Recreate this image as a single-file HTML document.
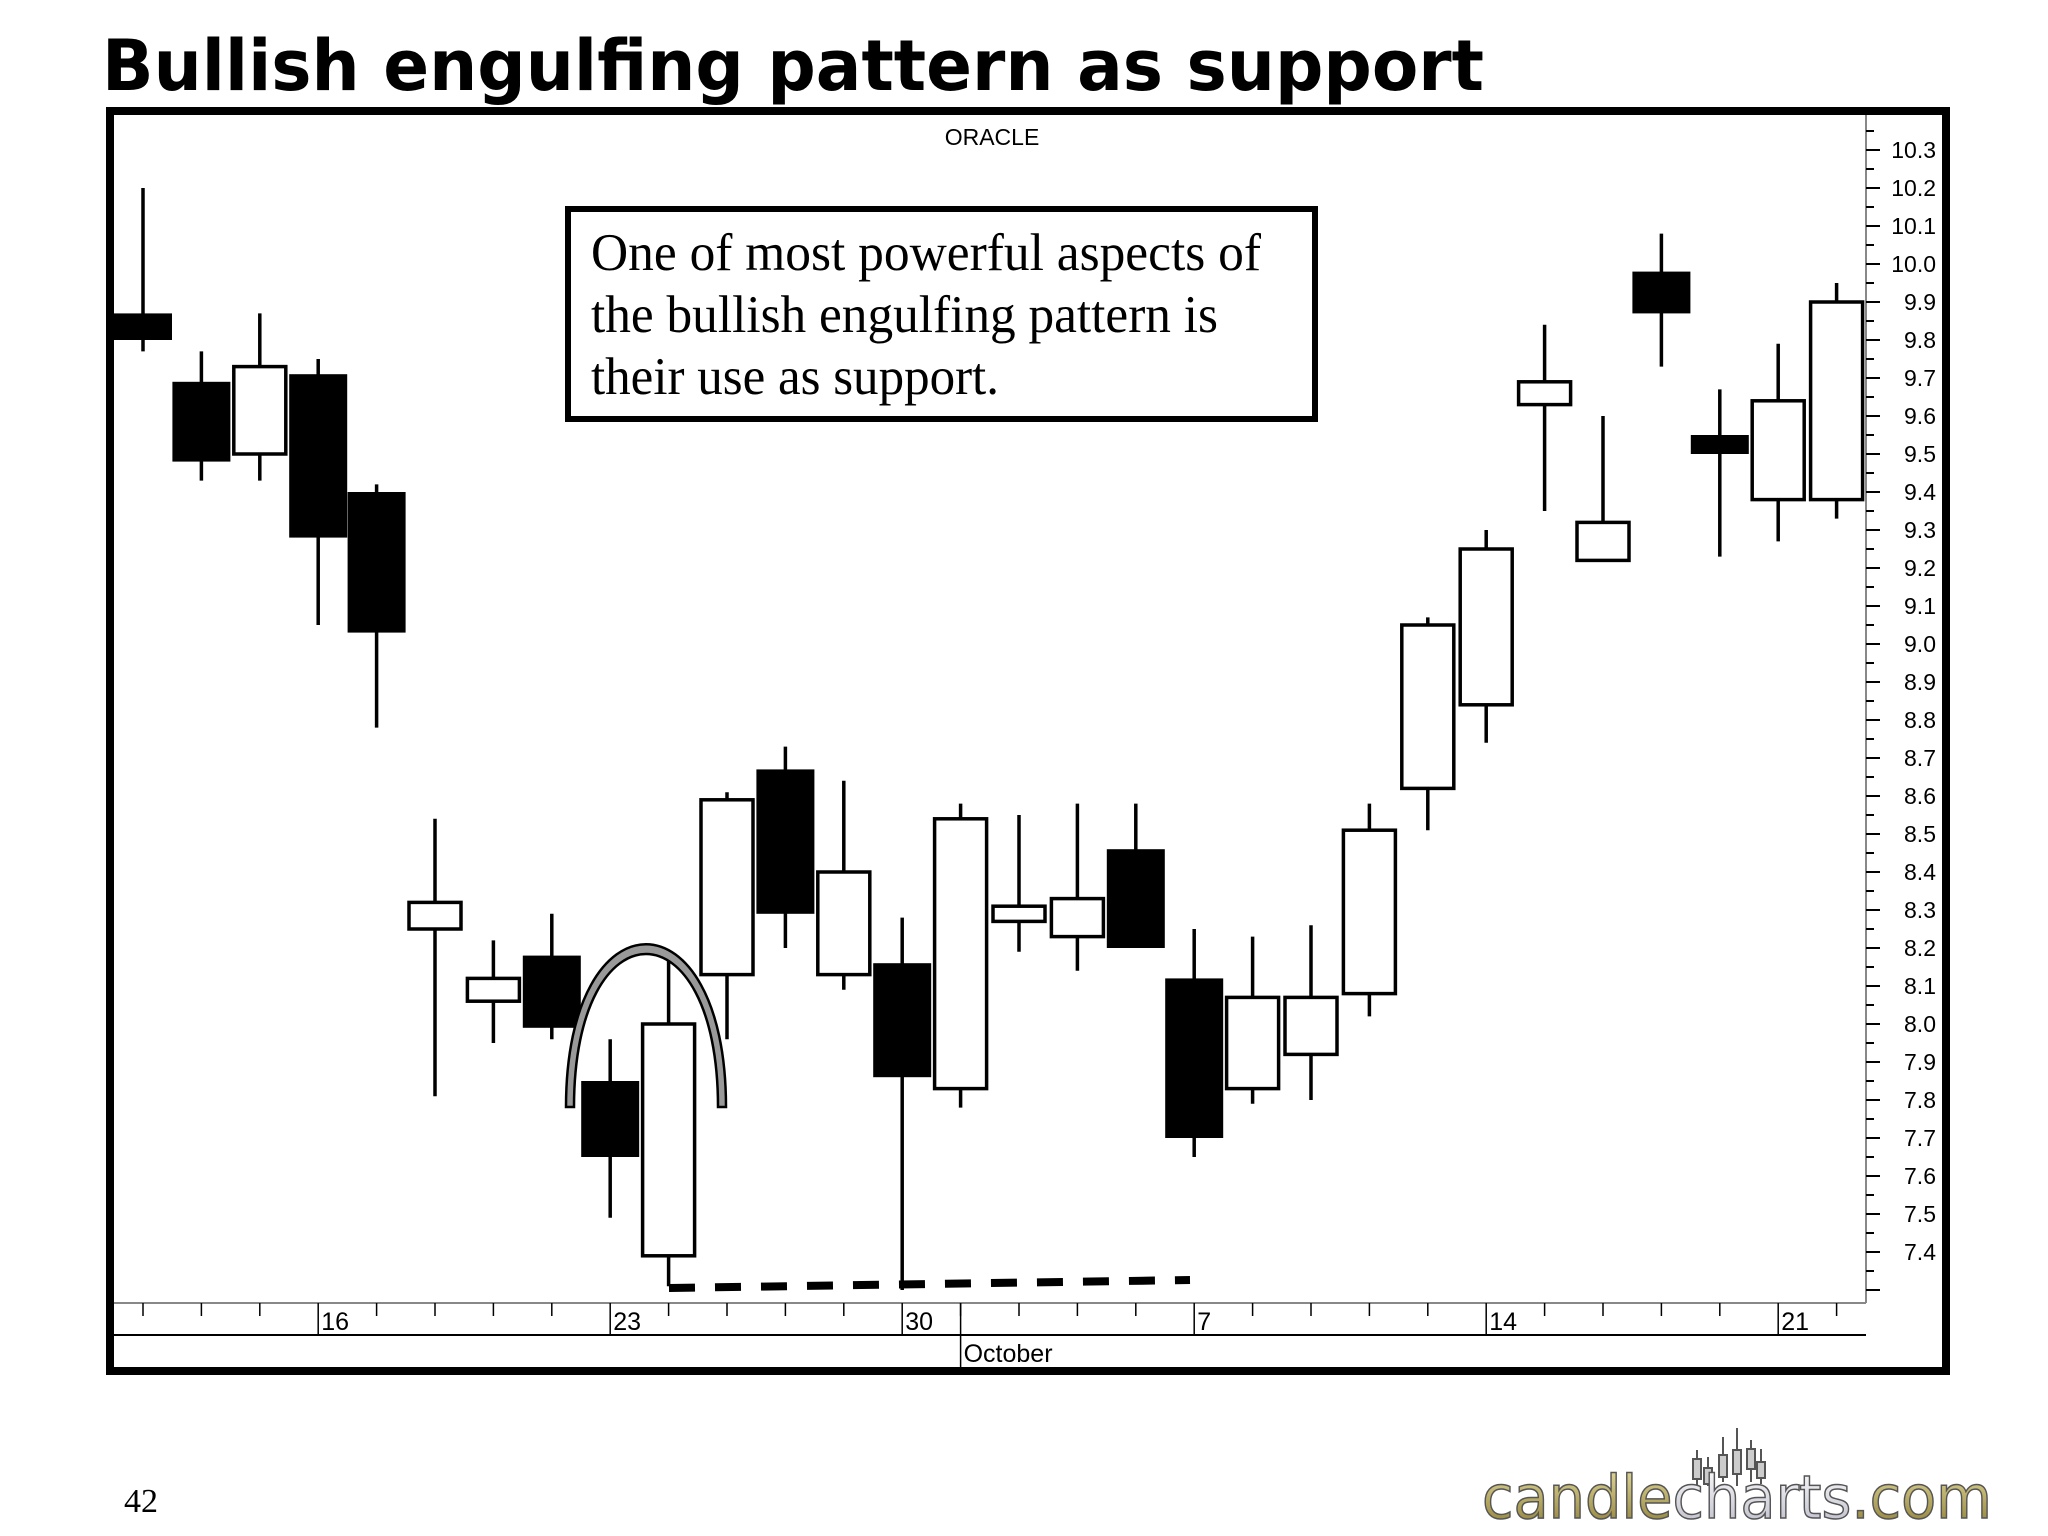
<!DOCTYPE html>
<html><head><meta charset="utf-8"><style>
html,body{margin:0;padding:0;background:#fff;}
svg{display:block;}
</style></head><body>
<svg id="chart" width="2048" height="1536" viewBox="0 0 2048 1536" xmlns="http://www.w3.org/2000/svg">
<text x="102" y="90" font-family="DejaVu Sans, Liberation Sans, sans-serif" font-weight="bold" font-size="70" textLength="1382" lengthAdjust="spacingAndGlyphs">Bullish engulfing pattern as support</text>
<rect x="110" y="111" width="1836" height="1260" fill="none" stroke="#000" stroke-width="8"/>
<text x="992" y="145" text-anchor="middle" font-family="Liberation Sans, sans-serif" font-size="23">ORACLE</text>
<g id="yaxis"></g>
<g id="xaxis"></g>
<g id="candles"></g>
<path d="M566,1107 C566,890 726,890 726,1107 L718,1107 C718,903 574,903 574,1107 Z" fill="#999" stroke="#000" stroke-width="2.5"/>
<line x1="669" y1="1288" x2="1190" y2="1280" stroke="#000" stroke-width="8" stroke-dasharray="26,20"/>
<rect x="568" y="209" width="747" height="210" fill="#fff" stroke="#000" stroke-width="6"/>
<text font-family="Liberation Serif, serif" font-size="53">
<tspan x="591" y="270" textLength="670" lengthAdjust="spacingAndGlyphs">One of most powerful aspects of</tspan>
<tspan x="591" y="332" textLength="627" lengthAdjust="spacingAndGlyphs">the bullish engulfing pattern is</tspan>
<tspan x="591" y="394" textLength="408" lengthAdjust="spacingAndGlyphs">their use as support.</tspan>
</text>
<text x="124" y="1512" font-family="Liberation Serif, serif" font-size="34">42</text>
<defs>
<linearGradient id="gold" x1="0" y1="0" x2="0" y2="1"><stop offset="0" stop-color="#e8dfa0"/><stop offset="1" stop-color="#8a7a30"/></linearGradient>
<linearGradient id="silver" x1="0" y1="0" x2="0" y2="1"><stop offset="0" stop-color="#ffffff"/><stop offset="1" stop-color="#b8b8c8"/></linearGradient>
</defs>
<g stroke="#555" stroke-width="2" fill="#ccc">
<line x1="1697" y1="1450" x2="1697" y2="1486"/><rect x="1693" y="1459" width="8" height="20"/>
<line x1="1708" y1="1457" x2="1708" y2="1486"/><rect x="1704" y="1468" width="8" height="16"/>
<line x1="1723" y1="1437" x2="1723" y2="1482"/><rect x="1719" y="1455" width="8" height="22"/>
<line x1="1737" y1="1428" x2="1737" y2="1486"/><rect x="1733" y="1450" width="8" height="24"/>
<line x1="1751" y1="1440" x2="1751" y2="1482"/><rect x="1747" y="1449" width="8" height="20"/>
<line x1="1761" y1="1449" x2="1761" y2="1484"/><rect x="1757" y="1462" width="8" height="16"/>
</g>
<text x="1482" y="1518" font-family="DejaVu Sans, Liberation Sans, sans-serif" font-size="60" textLength="510" lengthAdjust="spacingAndGlyphs" stroke="#555" stroke-width="1.5"><tspan fill="url(#gold)">candle</tspan><tspan fill="url(#silver)">charts</tspan><tspan fill="url(#gold)">.com</tspan></text>
</svg>
<script>
const opens  = [9.87,9.69,9.50,9.71,9.40,8.25,8.06,8.18,7.85,7.39,8.13,8.67,8.13,8.16,7.83,8.27,8.23,8.46,8.12,7.83,7.92,8.08,8.62,8.84,9.63,9.22,9.98,9.55,9.38,9.38];
const highs  = [10.20,9.77,9.87,9.75,9.42,8.54,8.22,8.29,7.96,8.18,8.61,8.73,8.64,8.28,8.58,8.55,8.58,8.58,8.25,8.23,8.26,8.58,9.07,9.30,9.84,9.60,10.08,9.67,9.79,9.95];
const lows   = [9.77,9.43,9.43,9.05,8.78,7.81,7.95,7.96,7.49,7.31,7.96,8.20,8.09,7.30,7.78,8.19,8.14,8.20,7.65,7.79,7.80,8.02,8.51,8.74,9.35,9.22,9.73,9.23,9.27,9.33];
const closes = [9.80,9.48,9.73,9.28,9.03,8.32,8.12,7.99,7.65,8.00,8.59,8.29,8.40,7.86,8.54,8.31,8.33,8.20,7.70,8.07,8.07,8.51,9.05,9.25,9.69,9.32,9.87,9.50,9.64,9.90];
const priceTicks = [7.4,7.5,7.6,7.7,7.8,7.9,8.0,8.1,8.2,8.3,8.4,8.5,8.6,8.7,8.8,8.9,9.0,9.1,9.2,9.3,9.4,9.5,9.6,9.7,9.8,9.9,10.0,10.1,10.2,10.3];
const dayLabels = ["","","","16","","","","","23","","","","","30","","","","","7","","","","","14","","","","","21",""];
const monthLabels = ["October"];
const monthStartIndex = [14];

const NS="http://www.w3.org/2000/svg";
function y(v){return 150+(10.3-v)*380;}
function x(i){return 143+i*58.4;}
function mk(tag,attrs,parent){const e=document.createElementNS(NS,tag);for(const k in attrs)e.setAttribute(k,attrs[k]);parent.appendChild(e);return e;}

const ya=document.getElementById('yaxis');
let l=mk('line',{x1:1866,y1:115,x2:1866,y2:1303,stroke:'#888','stroke-width':2},ya);


for(let k=0;k<=61;k++){
  const v=7.3+k*0.05;const major=(k%2===0);
  const t=mk('line',{x1:1866,y1:y(v),x2:major?1880:1874,y2:y(v),stroke:'#000','stroke-width':2},ya);
  
  
}
priceTicks.forEach(v=>{
  const t=mk('text',{x:1936,y:y(v)+8,'text-anchor':'end','font-family':'Liberation Sans, sans-serif','font-size':23},ya);
  t.textContent=v.toFixed(1);
  
  
});

const xa=document.getElementById('xaxis');
l=mk('line',{x1:114,y1:1303,x2:1866,y2:1303,stroke:'#888','stroke-width':2},xa);


l=mk('line',{x1:114,y1:1335,x2:1866,y2:1335,stroke:'#000','stroke-width':2},xa);


dayLabels.forEach((d,i)=>{
  const xi=x(i);
  const t=mk('line',{x1:xi,y1:1303,x2:xi,y2:d?1335:1316,stroke:'#000','stroke-width':1.5},xa);
  
  
  if(d){
    const tx=mk('text',{x:xi+3,y:1330,'font-family':'Liberation Sans, sans-serif','font-size':25},xa);
    tx.textContent=d;
    
    
  }
});
monthLabels.forEach((m,j)=>{
  const xi=x(monthStartIndex[j]);
  const t=mk('line',{x1:xi,y1:1303,x2:xi,y2:1367,stroke:'#000','stroke-width':1.5},xa);
  
  
  const tx=mk('text',{x:xi+3,y:1362,'font-family':'Liberation Sans, sans-serif','font-size':25},xa);
  tx.textContent=m;
  
  
});

const cg=document.getElementById('candles');
opens.forEach((o,i)=>{
  const c=closes[i],xi=x(i);
  const w=mk('line',{x1:xi,y1:y(highs[i]),x2:xi,y2:y(lows[i]),stroke:'#000','stroke-width':3.5},cg);
  
  
  const top=y(Math.max(o,c)),bot=y(Math.min(o,c));
  let b;
  if(c<o){
    b=mk('rect',{x:Math.max(xi-29,114),y:top,width:xi-29<114?xi+29-114:58,height:Math.max(bot-top,2),fill:'#000'},cg);
    
  }else{
    b=mk('rect',{x:xi-26,y:top,width:52,height:Math.max(bot-top,2),fill:'#fff',stroke:'#000','stroke-width':3.5},cg);
    
  }
  
});
</script>
</body></html>
